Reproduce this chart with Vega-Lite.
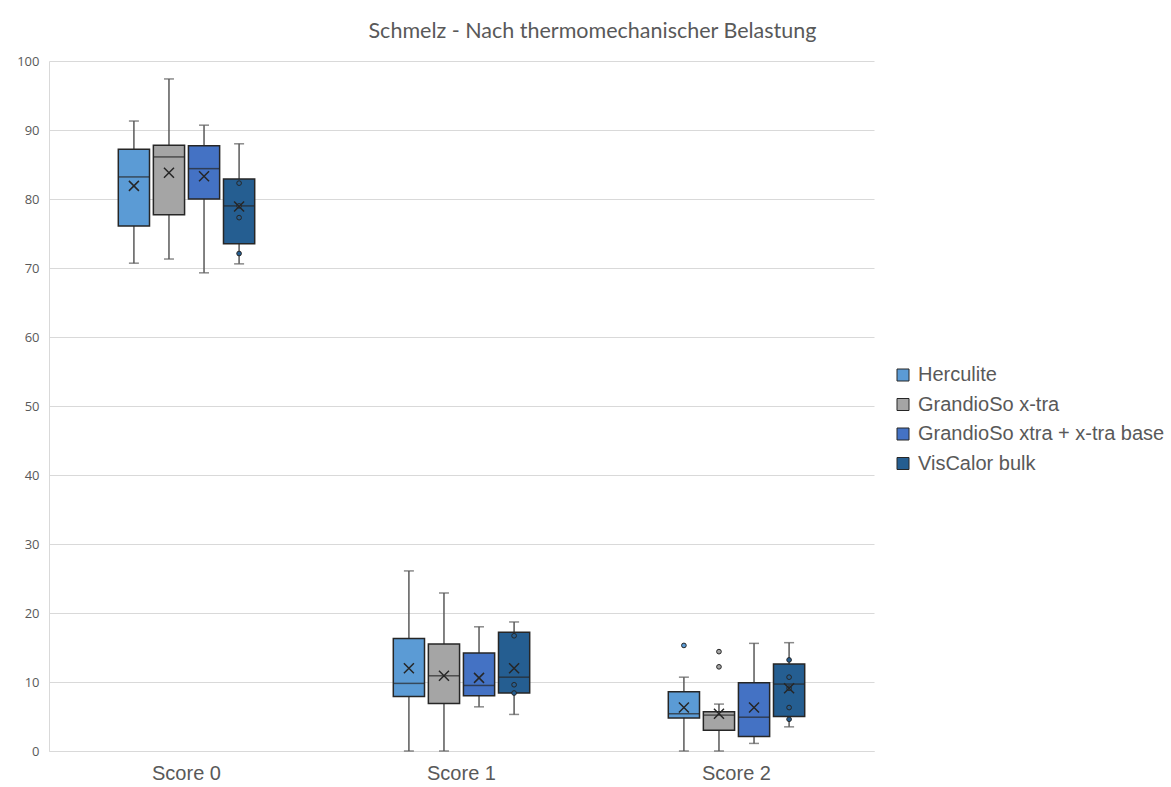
{
  "$schema": "https://vega.github.io/schema/vega-lite/v6.json",
  "width": 825,
  "height": 690,
  "autosize": {"type": "none"},
  "padding": {"left": 49, "top": 61, "right": 297, "bottom": 36},
  "background": "white",
  "view": {"stroke": null},
  "title": {
    "text": "Schmelz - Nach thermomechanischer Belastung",
    "anchor": "middle",
    "frame": "group",
    "dx": 131,
    "offset": 13,
    "font": "Lato",
    "fontSize": 21.5,
    "fontWeight": "normal",
    "color": "#595959"
  },
  "datasets": {
    "stats": [
      {"score": "Score 0", "material": "Herculite", "lower": 70.7, "q1": 76.1, "median": 83.2, "q3": 87.2, "upper": 91.3, "mean": 81.9},
      {"score": "Score 0", "material": "GrandioSo x-tra", "lower": 71.3, "q1": 77.7, "median": 86.1, "q3": 87.8, "upper": 97.4, "mean": 83.8},
      {"score": "Score 0", "material": "GrandioSo xtra + x-tra base", "lower": 69.3, "q1": 80.0, "median": 84.4, "q3": 87.7, "upper": 90.7, "mean": 83.3},
      {"score": "Score 0", "material": "VisCalor bulk", "lower": 70.6, "q1": 73.5, "median": 79.0, "q3": 82.9, "upper": 88.0, "mean": 78.9},
      {"score": "Score 1", "material": "Herculite", "lower": 0, "q1": 7.9, "median": 9.8, "q3": 16.3, "upper": 26.1, "mean": 12.0},
      {"score": "Score 1", "material": "GrandioSo x-tra", "lower": 0, "q1": 6.9, "median": 10.9, "q3": 15.5, "upper": 22.9, "mean": 10.9},
      {"score": "Score 1", "material": "GrandioSo xtra + x-tra base", "lower": 6.4, "q1": 8.0, "median": 9.5, "q3": 14.2, "upper": 18.0, "mean": 10.6},
      {"score": "Score 1", "material": "VisCalor bulk", "lower": 5.3, "q1": 8.4, "median": 10.7, "q3": 17.2, "upper": 18.7, "mean": 12.0},
      {"score": "Score 2", "material": "Herculite", "lower": 0, "q1": 4.8, "median": 5.4, "q3": 8.6, "upper": 10.7, "mean": 6.3},
      {"score": "Score 2", "material": "GrandioSo x-tra", "lower": 0, "q1": 3.0, "median": 5.2, "q3": 5.7, "upper": 6.8, "mean": 5.4},
      {"score": "Score 2", "material": "GrandioSo xtra + x-tra base", "lower": 1.1, "q1": 2.1, "median": 4.9, "q3": 9.9, "upper": 15.6, "mean": 6.3},
      {"score": "Score 2", "material": "VisCalor bulk", "lower": 3.5, "q1": 5.0, "median": 9.7, "q3": 12.6, "upper": 15.7, "mean": 9.1}
    ],
    "pts": [
      {"score": "Score 0", "material": "VisCalor bulk", "value": 82.3},
      {"score": "Score 0", "material": "VisCalor bulk", "value": 79.0},
      {"score": "Score 0", "material": "VisCalor bulk", "value": 77.3},
      {"score": "Score 0", "material": "VisCalor bulk", "value": 72.1},
      {"score": "Score 1", "material": "VisCalor bulk", "value": 16.7},
      {"score": "Score 1", "material": "VisCalor bulk", "value": 9.6},
      {"score": "Score 1", "material": "VisCalor bulk", "value": 8.4},
      {"score": "Score 2", "material": "Herculite", "value": 15.3},
      {"score": "Score 2", "material": "GrandioSo x-tra", "value": 14.4},
      {"score": "Score 2", "material": "GrandioSo x-tra", "value": 12.2},
      {"score": "Score 2", "material": "VisCalor bulk", "value": 13.2},
      {"score": "Score 2", "material": "VisCalor bulk", "value": 10.7},
      {"score": "Score 2", "material": "VisCalor bulk", "value": 9.1},
      {"score": "Score 2", "material": "VisCalor bulk", "value": 6.3},
      {"score": "Score 2", "material": "VisCalor bulk", "value": 4.6}
    ]
  },
  "encoding": {
    "x": {
      "field": "score",
      "type": "nominal",
      "title": null,
      "scale": {"paddingInner": 0.49, "paddingOuter": 0.245},
      "axis": {
        "labelAngle": 0,
        "labelFont": "Liberation Sans",
        "labelFontSize": 20,
        "labelColor": "#595959",
        "labelPadding": 12,
        "ticks": false,
        "domain": true,
        "domainColor": "#d9d9d9",
        "grid": false
      }
    },
    "xOffset": {
      "field": "material",
      "type": "nominal",
      "sort": ["Herculite", "GrandioSo x-tra", "GrandioSo xtra + x-tra base", "VisCalor bulk"],
      "scale": {"paddingInner": 0.11, "paddingOuter": 0.055}
    }
  },
  "layer": [
    {
      "data": {"name": "stats"},
      "mark": {"type": "rule", "color": "#595959", "strokeWidth": 1.5},
      "encoding": {
        "y": {
          "field": "lower",
          "type": "quantitative",
          "title": null,
          "scale": {"domain": [0, 100], "nice": false},
          "axis": {
            "values": [0, 10, 20, 30, 40, 50, 60, 70, 80, 90, 100],
            "grid": true,
            "gridColor": "#d9d9d9",
            "gridWidth": 1,
            "domain": true,
            "domainColor": "#d9d9d9",
            "ticks": false,
            "labelFont": "Open Sans",
            "labelFontSize": 13,
            "labelColor": "#595959",
            "labelPadding": 10
          }
        },
        "y2": {"field": "upper"}
      }
    },
    {
      "data": {"name": "stats"},
      "mark": {"type": "tick", "color": "#595959", "size": 10, "thickness": 1.5},
      "encoding": {"y": {"field": "lower", "type": "quantitative"}}
    },
    {
      "data": {"name": "stats"},
      "mark": {"type": "tick", "color": "#595959", "size": 10, "thickness": 1.5},
      "encoding": {"y": {"field": "upper", "type": "quantitative"}}
    },
    {
      "data": {"name": "stats"},
      "mark": {"type": "bar", "stroke": "#262626", "strokeWidth": 1.5, "opacity": 1},
      "encoding": {
        "y": {"field": "q1", "type": "quantitative"},
        "y2": {"field": "q3"},
        "fill": {
          "field": "material",
          "type": "nominal",
          "title": null,
          "sort": ["Herculite", "GrandioSo x-tra", "GrandioSo xtra + x-tra base", "VisCalor bulk"],
          "scale": {
            "domain": ["Herculite", "GrandioSo x-tra", "GrandioSo xtra + x-tra base", "VisCalor bulk"],
            "range": ["#5B9BD5", "#A5A5A5", "#4472C4", "#255E91"]
          },
          "legend": {
            "orient": "none",
            "legendX": 844,
            "legendY": 304,
            "padding": 0,
            "symbolType": "square",
            "symbolSize": 144,
            "symbolStrokeColor": "#262626",
            "symbolStrokeWidth": 1,
            "symbolOpacity": 1,
            "labelFont": "Liberation Sans",
            "labelFontSize": 20,
            "labelColor": "#595959",
            "labelOffset": 5,
            "rowPadding": 9.5,
            "labelLimit": 400
          }
        }
      }
    },
    {
      "data": {"name": "stats"},
      "mark": {"type": "tick", "color": "#262626", "size": 31, "thickness": 1.5},
      "encoding": {"y": {"field": "median", "type": "quantitative"}}
    },
    {
      "data": {"name": "pts"},
      "mark": {"type": "point", "shape": "circle", "size": 22, "filled": true, "stroke": "#262626", "strokeWidth": 1, "opacity": 1},
      "encoding": {
        "y": {"field": "value", "type": "quantitative"},
        "fill": {"field": "material", "type": "nominal", "legend": null}
      }
    },
    {
      "data": {"name": "stats"},
      "mark": {"type": "point", "shape": "M-1,-1L1,1M-1,1L1,-1", "size": 100, "filled": false, "stroke": "#262626", "strokeWidth": 1.5, "opacity": 1},
      "encoding": {"y": {"field": "mean", "type": "quantitative"}}
    }
  ]
}
